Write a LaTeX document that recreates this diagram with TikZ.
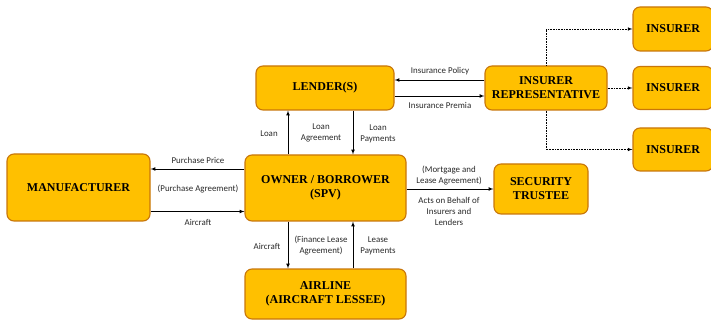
\documentclass[tikz,border=0pt]{standalone}
\usepackage{fontspec}
\setmainfont{Liberation Serif}
\newfontfamily\lblfont{Carlito}
\usepackage{tikz}
\usetikzlibrary{arrows}

\definecolor{boxfill}{RGB}{255,192,0}
\definecolor{boxline}{RGB}{200,118,10}
\definecolor{lblgray}{RGB}{40,40,40}

\tikzset{
  box/.style={draw=boxline, fill=boxfill, line width=1.1pt, rounded corners=7pt,
    align=center, font=\fontsize{12}{14}\selectfont\bfseries, inner sep=0pt},
  arr/.style={-latex, line width=0.7pt},
  dotarr/.style={-latex, densely dotted, line width=0.6pt},
  lbl/.style={text=lblgray, align=center, inner sep=1pt,
    font=\lblfont\fontsize{8.9}{11}\selectfont}
}

\begin{document}
\begin{tikzpicture}[x=1pt,y=-1pt]
\useasboundingbox (0,0) rectangle (711,320);

% the parties
\node[box, minimum width=143, minimum height=67] (manu) at (78.5,187.5) {MANUFACTURER};
\node[box, minimum width=138, minimum height=44] (lender) at (325,88) {LENDER(S)};
\node[box, minimum width=122, minimum height=44] (rep) at (546,88) {INSURER\\REPRESENTATIVE};
\node[box, minimum width=80, minimum height=44] (ins1) at (673,29) {INSURER};
\node[box, minimum width=80, minimum height=43] (ins2) at (673,88) {INSURER};
\node[box, minimum width=80, minimum height=43] (ins3) at (673,149.5) {INSURER};
\node[box, minimum width=161, minimum height=66] (owner) at (325.5,188) {OWNER / BORROWER\\(SPV)};
\node[box, minimum width=94, minimum height=50] (trustee) at (541,189) {SECURITY\\TRUSTEE};
\node[box, minimum width=161, minimum height=50] (airline) at (325.5,294) {AIRLINE\\(AIRCRAFT LESSEE)};

% manufacturer <-> owner
\draw[arr] ([yshift=19pt]owner.west) -- ([yshift=19pt]owner.west -| manu.east);
\draw[arr] ([yshift=-24pt]manu.east) -- ([yshift=-24pt]manu.east -| owner.west);
\node[lbl] (pprice) at (198,160) {Purchase Price};
\node[lbl] (pagree) at (198,189) {(Purchase Agreement)};
\node[lbl] (acraft1) at (198,222) {Aircraft};

% lender <-> owner
\draw[arr] ([xshift=-37.5pt]owner.north) -- ([xshift=-37.5pt]owner.north |- lender.south);
\draw[arr] ([xshift=27.5pt]lender.south -| owner.north) -- ([xshift=27.5pt]owner.north);
\node[lbl] (loan) at (269,134) {Loan};
\node[lbl] (lagree) at (321,133) {Loan\\Agreement};
\node[lbl] (lpay) at (378,134) {Loan\\Payments};

% lender <-> insurer representative
\draw[arr] ([yshift=8pt]rep.west) -- ([yshift=8pt]rep.west -| lender.east);
\draw[arr] ([yshift=-8pt]lender.east) -- ([yshift=-8pt]lender.east -| rep.west);
\node[lbl] (ipol) at (440,71) {Insurance Policy};
\node[lbl] (iprem) at (440,105) {Insurance Premia};

% representative -> insurers
\draw[dotarr] (rep.north) |- (ins1.west);
\draw[dotarr] (rep.east) -- (ins2.west);
\draw[dotarr] (rep.south) |- (ins3.west);

% owner -> security trustee
\draw[arr] (owner.east |- trustee.west) -- (trustee.west);
\node[lbl] (mortg) at (449,175.5) {(Mortgage and\\Lease Agreement)};
\node[lbl] (behalf) at (449,211) {Acts on Behalf of\\Insurers and\\Lenders};

% owner <-> airline
\draw[arr] ([xshift=-37.5pt]owner.south) -- ([xshift=-37.5pt]owner.south |- airline.north);
\draw[arr] ([xshift=27.5pt]airline.north) -- ([xshift=27.5pt]airline.north |- owner.south);
\node[lbl] (acraft2) at (267,246) {Aircraft};
\node[lbl] (flease) at (321,246) {(Finance Lease\\Agreement)};
\node[lbl] (lspay) at (378,246) {Lease\\Payments};
\end{tikzpicture}
\end{document}
